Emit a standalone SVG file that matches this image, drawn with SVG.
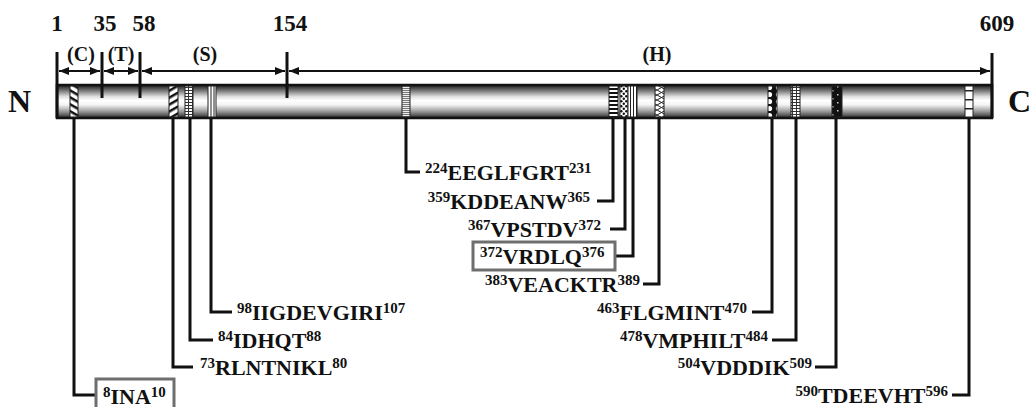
<svg xmlns="http://www.w3.org/2000/svg" width="1030" height="407" viewBox="0 0 1030 407">
<style>
text{font-family:"Liberation Serif","Times New Roman",serif;font-weight:bold;fill:#111}
.num{font-size:23px;text-anchor:middle}
.dom{font-size:20px;text-anchor:middle}
.end{font-size:32px}
.lab{font-size:22px}
.sup{font-size:15px}
.tick{stroke:#111;stroke-width:3;fill:none}
.arr{stroke:#111;stroke-width:2;fill:none}
.con{stroke:#111;stroke-width:3;fill:none}
.box{stroke:#6e6e6e;stroke-width:3;fill:#fff}
.motif{stroke:#222;stroke-width:1}
</style>
<defs>
<linearGradient id="bar" x1="0" y1="0" x2="0" y2="1">
<stop offset="0" stop-color="#1c1c1c"/>
<stop offset="0.12" stop-color="#5a5a5a"/>
<stop offset="0.35" stop-color="#dedede"/>
<stop offset="0.47" stop-color="#ffffff"/>
<stop offset="0.6" stop-color="#f4f4f4"/>
<stop offset="0.8" stop-color="#9a9a9a"/>
<stop offset="0.93" stop-color="#505050"/>
<stop offset="1" stop-color="#1c1c1c"/>
</linearGradient>
<pattern id="diagA" width="6" height="6" patternUnits="userSpaceOnUse" patternTransform="rotate(30)">
<rect width="6" height="6" fill="#fff"/><rect width="6" height="2.5" fill="#111"/>
</pattern>
<pattern id="diagB" width="6" height="6" patternUnits="userSpaceOnUse" patternTransform="rotate(-30)">
<rect width="6" height="6" fill="#fff"/><rect width="6" height="2.5" fill="#111"/>
</pattern>
<pattern id="ladder" width="4" height="3" patternUnits="userSpaceOnUse">
<rect width="4" height="3" fill="#fff"/><rect width="4" height="1" fill="#333"/><rect x="0" width="1" height="3" fill="#333"/>
</pattern>
<pattern id="hthin" width="4" height="2" patternUnits="userSpaceOnUse">
<rect width="4" height="2" fill="#eee"/><rect width="4" height="1" fill="#777"/>
</pattern>
<pattern id="hbar" width="4" height="4" patternUnits="userSpaceOnUse">
<rect width="4" height="4" fill="#fff"/><rect width="4" height="2" fill="#111"/>
</pattern>
<pattern id="speck" width="5" height="5" patternUnits="userSpaceOnUse">
<rect width="5" height="5" fill="#fff"/><circle cx="1.3" cy="1.3" r="1.2" fill="#111"/><circle cx="3.8" cy="3.8" r="1.2" fill="#111"/>
</pattern>
<pattern id="vline" width="3" height="4" patternUnits="userSpaceOnUse">
<rect width="3" height="4" fill="#fff"/><rect width="1" height="4" fill="#222"/>
</pattern>
<pattern id="zig" width="9" height="10" patternUnits="userSpaceOnUse">
<rect width="9" height="10" fill="#fff"/><path d="M0 0 L9 5 L0 10 M9 0 L0 5 L9 10" stroke="#222" stroke-width="1" fill="none"/>
</pattern>
<pattern id="circ" width="9" height="7" patternUnits="userSpaceOnUse">
<rect width="9" height="7" fill="#111"/><circle cx="4.5" cy="3.5" r="2.6" fill="#fff"/>
</pattern>
<pattern id="dark" width="10" height="8" patternUnits="userSpaceOnUse">
<rect width="10" height="8" fill="#111"/><rect x="2" y="2" width="1.5" height="1.5" fill="#ccc"/><rect x="7" y="6" width="1.5" height="1.5" fill="#ccc"/>
</pattern>
<pattern id="cells" width="8" height="9" patternUnits="userSpaceOnUse">
<rect width="8" height="9" fill="#fff"/><rect width="8" height="1.5" fill="#222"/>
</pattern>
<marker id="ah" viewBox="0 0 10 8" refX="10" refY="4" markerWidth="10" markerHeight="8" markerUnits="userSpaceOnUse" orient="auto-start-reverse">
<path d="M0 0 L10 4 L0 8 Z" fill="#111"/>
</marker>
</defs>

<g id="bar-protein">
<rect x="57" y="85" width="935" height="33" fill="url(#bar)" stroke="#111" stroke-width="2.5"/>
</g>

<g id="motifs">
<rect id="m8" class="motif" x="70" y="86" width="8" height="31" fill="url(#diagA)"/>
<rect id="m73" class="motif" x="169" y="86" width="9" height="31" fill="url(#diagB)"/>
<rect id="m84" class="motif" x="185" y="86" width="8" height="31" fill="url(#ladder)"/>
<rect id="m98" class="motif" x="208" y="86" width="8" height="31" fill="#fff"/>
<line x1="211" y1="86" x2="211" y2="117" class="motif"/><line x1="214" y1="86" x2="214" y2="117" class="motif"/>
<rect id="m224" class="motif" x="402" y="86" width="8" height="31" fill="url(#hthin)"/>
<rect id="m359" class="motif" x="609" y="86" width="9" height="31" fill="url(#hbar)"/>
<rect id="m367" class="motif" x="620" y="86" width="8" height="31" fill="url(#speck)"/>
<rect id="m372" class="motif" x="628" y="86" width="9" height="31" fill="url(#vline)"/>
<rect id="m383" class="motif" x="655" y="86" width="9" height="31" fill="url(#zig)"/>
<rect id="m463" class="motif" x="768" y="86" width="9" height="31" fill="url(#circ)"/>
<rect id="m478" class="motif" x="791" y="86" width="9" height="31" fill="url(#ladder)"/>
<rect id="m504" class="motif" x="832" y="86" width="10" height="31" fill="url(#dark)"/>
<rect id="m590" class="motif" x="965" y="86" width="8" height="31" fill="url(#cells)"/>
</g>

<g id="ruler">
<line class="tick" x1="57" y1="52" x2="57" y2="118"/>
<line class="tick" x1="102" y1="52" x2="102" y2="98"/>
<line class="tick" x1="140" y1="52" x2="140" y2="98"/>
<line class="tick" x1="287" y1="52" x2="287" y2="98"/>
<line class="tick" x1="992" y1="53" x2="992" y2="118"/>
<line class="arr" x1="59" y1="71" x2="100" y2="71" marker-start="url(#ah)" marker-end="url(#ah)"/>
<line class="arr" x1="104" y1="71" x2="138" y2="71" marker-start="url(#ah)" marker-end="url(#ah)"/>
<line class="arr" x1="142" y1="71" x2="285" y2="71" marker-start="url(#ah)" marker-end="url(#ah)"/>
<line class="arr" x1="289" y1="71" x2="990" y2="71" marker-start="url(#ah)" marker-end="url(#ah)"/>
<text class="num" x="57" y="31">1</text>
<text class="num" x="105" y="31">35</text>
<text class="num" x="144" y="31">58</text>
<text class="num" x="290" y="31">154</text>
<text class="num" x="997" y="31">609</text>
<text class="dom" x="81" y="61">(C)</text>
<text class="dom" x="121" y="61">(T)</text>
<text class="dom" x="205" y="61">(S)</text>
<text class="dom" x="657" y="61">(H)</text>
<text class="end" x="8" y="112">N</text>
<text class="end" x="1008" y="112">C</text>
</g>

<g id="connectors">
<path class="con" d="M74 118 V395 H97"/>
<path class="con" d="M173 118 V367 H193"/>
<path class="con" d="M190 118 V340 H213"/>
<path class="con" d="M211 118 V312 H232"/>
<path class="con" d="M406 118 V172 H420"/>
<path class="con" d="M613 118 V201 H597"/>
<path class="con" d="M625 118 V229 H610"/>
<path class="con" d="M633 118 V256 H615"/>
<path class="con" d="M659 118 V284 H643"/>
<path class="con" d="M772 118 V312 H752"/>
<path class="con" d="M796 118 V340 H772"/>
<path class="con" d="M836 118 V367 H815"/>
<path class="con" d="M969 118 V395 H952"/>
</g>

<g id="label-8">
<rect class="box" x="96" y="379" width="78" height="34"/>
<text class="lab" x="103" y="404"><tspan class="sup" dy="-7">8</tspan><tspan dy="7">INA</tspan><tspan class="sup" dy="-7">10</tspan></text>
</g>
<g id="label-73"><text class="lab" x="200" y="375"><tspan class="sup" dy="-7">73</tspan><tspan dy="7">RLNTNIKL</tspan><tspan class="sup" dy="-7">80</tspan></text></g>
<g id="label-84"><text class="lab" x="218" y="348"><tspan class="sup" dy="-7">84</tspan><tspan dy="7">IDHQT</tspan><tspan class="sup" dy="-7">88</tspan></text></g>
<g id="label-98"><text class="lab" x="237" y="320"><tspan class="sup" dy="-7">98</tspan><tspan dy="7">IIGDEVGIRI</tspan><tspan class="sup" dy="-7">107</tspan></text></g>
<g id="label-224"><text class="lab" x="425" y="180"><tspan class="sup" dy="-7">224</tspan><tspan dy="7">EEGLFGRT</tspan><tspan class="sup" dy="-7">231</tspan></text></g>
<g id="label-359"><text class="lab" x="590" y="209" text-anchor="end"><tspan class="sup" dy="-7">359</tspan><tspan dy="7">KDDEANW</tspan><tspan class="sup" dy="-7">365</tspan></text></g>
<g id="label-367"><text class="lab" x="601" y="237" text-anchor="end"><tspan class="sup" dy="-7">367</tspan><tspan dy="7">VPSTDV</tspan><tspan class="sup" dy="-7">372</tspan></text></g>
<g id="label-372">
<rect class="box" x="473" y="242" width="142" height="28"/>
<text class="lab" x="480" y="264"><tspan class="sup" dy="-7">372</tspan><tspan dy="7">VRDLQ</tspan><tspan class="sup" dy="-7">376</tspan></text>
</g>
<g id="label-383"><text class="lab" x="640" y="292" text-anchor="end"><tspan class="sup" dy="-7">383</tspan><tspan dy="7">VEACKTR</tspan><tspan class="sup" dy="-7">389</tspan></text></g>
<g id="label-463"><text class="lab" x="747" y="320" text-anchor="end"><tspan class="sup" dy="-7">463</tspan><tspan dy="7">FLGMINT</tspan><tspan class="sup" dy="-7">470</tspan></text></g>
<g id="label-478"><text class="lab" x="768" y="348" text-anchor="end"><tspan class="sup" dy="-7">478</tspan><tspan dy="7">VMPHILT</tspan><tspan class="sup" dy="-7">484</tspan></text></g>
<g id="label-504"><text class="lab" x="812" y="375" text-anchor="end"><tspan class="sup" dy="-7">504</tspan><tspan dy="7">VDDDIK</tspan><tspan class="sup" dy="-7">509</tspan></text></g>
<g id="label-590"><text class="lab" x="948" y="403" text-anchor="end"><tspan class="sup" dy="-7">590</tspan><tspan dy="7">TDEEVHT</tspan><tspan class="sup" dy="-7">596</tspan></text></g>
</svg>
